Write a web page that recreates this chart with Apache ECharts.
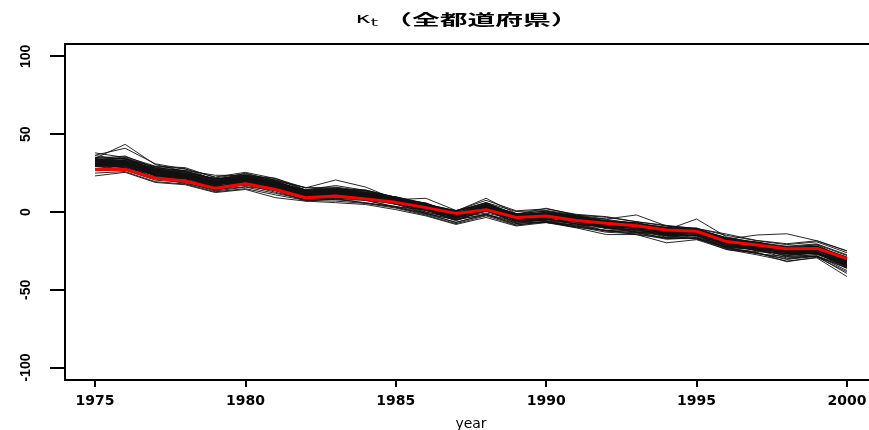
<!DOCTYPE html>
<html>
<head>
<meta charset="utf-8">
<script src="https://cdn.jsdelivr.net/npm/echarts@6/dist/echarts.min.js"></script>
<style>
  html, body { margin: 0; padding: 0; background: #fff; }
  #chart { width: 869px; height: 430px; }
</style>
</head>
<body>
<div id="chart"></div>
<script>
// years on the x axis
const years = [1975, 1976, 1977, 1978, 1979, 1980, 1981, 1982, 1983, 1984, 1985, 1986, 1987,
               1988, 1989, 1990, 1991, 1992, 1993, 1994, 1995, 1996, 1997, 1998, 1999, 2000];
const xTicks = [1975, 1980, 1985, 1990, 1995, 2000];
const yTicks = [-100, -50, 0, 50, 100];

// kappa_t, whole country (red)
const national = [27.5, 27.4, 21.7, 19.9, 15.2, 18.2, 14.5, 9.2, 10.3, 8.4, 6.2, 2.8, -0.9,
                  1.5, -3.5, -2.6, -5.5, -7.2, -8.8, -11.6, -12.4, -19.0, -21.2, -23.6, -23.4, -30.0];

// kappa_t, each prefecture (black)
const p01 = [32.0, 31.1, 26.0, 22.3, 18.4, 20.3, 17.9, 11.0, 12.6, 9.7, 7.6, 3.4, -2.9, 2.7, -4.3, -2.4, -5.9, -7.7, -10.6, -12.8, -12.8, -20.2, -22.3, -26.1, -24.1, -33.6];
const p02 = [32.1, 33.0, 26.0, 24.8, 18.7, 22.0, 17.2, 12.6, 13.4, 12.1, 7.6, 3.5, -0.6, 3.1, -2.5, -2.3, -3.9, -7.9, -8.5, -12.6, -12.6, -18.2, -22.3, -24.2, -24.2, -31.1];
const p03 = [31.7, 29.4, 24.6, 23.4, 15.9, 20.5, 15.5, 11.3, 9.9, 9.6, 7.2, 1.0, -2.8, 0.3, -3.7, -4.7, -7.5, -7.8, -11.1, -13.2, -15.5, -20.5, -22.5, -27.5, -26.3, -32.7];
const p04 = [32.4, 34.7, 26.3, 24.7, 21.6, 21.5, 19.7, 12.2, 15.5, 11.9, 7.9, 5.9, -1.2, 6.0, -2.9, -0.1, -3.1, -7.5, -6.7, -11.8, -10.2, -19.0, -21.0, -22.3, -24.1, -31.6];
const p05 = [30.0, 29.1, 24.0, 20.3, 16.4, 18.3, 15.9, 9.0, 10.6, 7.7, 5.6, 1.4, -4.9, 0.7, -6.3, -4.4, -7.9, -9.7, -12.6, -14.8, -14.8, -22.2, -24.3, -28.1, -26.1, -35.6];
const p06 = [31.6, 32.5, 25.5, 24.3, 18.2, 21.5, 16.7, 12.1, 12.9, 11.6, 7.1, 3.0, -1.1, 2.6, -3.0, -2.8, -4.4, -8.4, -9.0, -13.1, -13.1, -18.7, -22.8, -24.7, -24.7, -31.6];
const p07 = [29.9, 32.2, 23.8, 22.2, 19.1, 19.0, 17.2, 9.7, 13.0, 9.4, 5.4, 3.4, -3.7, 3.5, -5.4, -2.6, -5.6, -10.0, -9.2, -14.3, -12.7, -21.5, -23.5, -24.8, -26.6, -34.1];
const p08 = [34.2, 31.9, 27.1, 25.9, 18.4, 23.0, 18.0, 13.8, 12.4, 12.1, 9.7, 3.5, -0.3, 2.8, -1.2, -2.2, -5.0, -5.3, -8.6, -10.7, -13.0, -18.0, -20.0, -25.0, -23.8, -30.2];
const p09 = [29.6, 30.5, 23.5, 22.3, 16.2, 19.5, 14.7, 10.1, 10.9, 9.6, 5.1, 1.0, -3.1, 0.6, -5.0, -4.8, -6.4, -10.4, -11.0, -15.1, -15.1, -20.7, -24.8, -26.7, -26.7, -33.6];
const p10 = [35.0, 34.1, 29.0, 25.3, 21.4, 23.3, 20.9, 14.0, 15.6, 12.7, 9.6, 5.2, 0.1, 5.7, -1.3, 0.6, -2.9, -4.7, -7.6, -9.8, -10.8, -17.2, -19.3, -23.1, -21.1, -30.6];
const p11 = [29.7, 27.4, 22.6, 21.4, 13.9, 18.5, 13.5, 9.3, 7.9, 7.6, 5.2, -1.0, -4.8, -1.7, -5.7, -6.7, -9.5, -9.8, -13.1, -15.2, -17.5, -22.5, -24.5, -29.5, -28.3, -34.7];
const p12 = [30.4, 32.7, 24.3, 22.7, 19.6, 19.5, 17.7, 10.2, 13.5, 9.9, 5.9, 3.9, -3.2, 4.0, -4.9, -2.1, -5.1, -9.5, -8.7, -13.8, -12.2, -21.0, -23.0, -24.3, -26.1, -33.6];
const p13 = [33.6, 34.5, 27.5, 26.3, 20.2, 23.5, 18.7, 14.1, 14.9, 13.6, 9.1, 5.0, 0.9, 4.6, -1.0, -0.8, -2.4, -6.4, -7.0, -11.1, -11.1, -16.7, -20.8, -22.7, -22.7, -29.6];
const p14 = [27.9, 30.2, 21.8, 20.2, 17.1, 17.0, 15.2, 7.7, 11.0, 7.4, 3.4, 1.4, -5.7, 1.5, -7.4, -4.6, -7.6, -12.0, -11.2, -16.3, -14.7, -23.5, -25.5, -26.8, -28.6, -36.1];
const p15 = [33.0, 32.1, 27.0, 23.3, 19.4, 21.3, 18.9, 12.0, 13.6, 10.7, 8.6, 4.4, -1.9, 3.7, -3.3, -1.4, -4.9, -6.7, -9.6, -11.8, -11.8, -19.2, -21.3, -25.1, -23.1, -32.6];
const p16 = [29.4, 31.7, 23.3, 21.7, 18.6, 18.5, 16.7, 9.2, 12.5, 8.9, 4.9, 2.9, -4.2, 3.0, -5.9, -3.1, -6.1, -10.5, -9.7, -14.8, -13.2, -22.0, -24.0, -25.3, -27.1, -34.6];
const p17 = [33.2, 30.9, 26.1, 24.9, 17.4, 22.0, 17.0, 12.8, 11.4, 11.1, 8.7, 2.5, -1.3, 1.8, -2.2, -3.2, -6.0, -6.3, -9.6, -11.7, -14.0, -19.0, -21.0, -26.0, -24.8, -31.2];
const p18 = [30.6, 31.5, 24.5, 23.3, 17.2, 20.5, 15.7, 11.1, 11.9, 10.6, 6.1, 2.0, -2.1, 1.6, -4.0, -3.8, -5.4, -9.4, -10.0, -14.1, -14.1, -19.7, -23.8, -25.7, -25.7, -32.6];
const p19 = [34.0, 33.1, 28.0, 24.3, 20.4, 22.3, 19.9, 13.0, 14.6, 11.7, 9.6, 5.4, -0.9, 4.7, -2.3, -0.4, -3.9, -5.7, -8.6, -10.8, -10.8, -18.2, -20.3, -24.1, -22.1, -31.6];
const p20 = [30.7, 28.4, 23.6, 22.4, 14.9, 19.5, 14.5, 10.3, 8.9, 8.6, 6.2, 0.0, -3.8, -0.7, -4.7, -5.7, -8.5, -8.8, -12.1, -14.2, -16.5, -21.5, -23.5, -28.5, -27.3, -33.7];
const p21 = [32.4, 31.6, 24.0, 23.4, 19.0, 19.8, 16.7, 11.8, 11.6, 11.5, 7.0, 1.8, -2.1, 3.4, -4.6, -2.7, -4.5, -8.7, -10.9, -12.4, -13.2, -20.8, -21.8, -25.8, -24.4, -34.3];
const p22 = [31.8, 31.5, 27.2, 23.5, 18.2, 22.8, 18.2, 11.6, 14.2, 10.2, 8.7, 4.6, -2.5, 3.2, -2.3, -3.0, -5.1, -6.9, -7.8, -13.2, -12.0, -17.8, -22.5, -24.0, -24.4, -31.6];
const p23 = [31.4, 30.6, 23.0, 22.4, 18.0, 18.8, 15.7, 10.8, 10.6, 10.5, 6.0, 0.8, -3.1, 2.4, -5.6, -3.7, -5.5, -9.7, -11.9, -13.4, -14.2, -21.8, -22.8, -26.8, -25.4, -35.3];
const p24 = [32.8, 32.5, 28.2, 24.5, 19.2, 23.8, 19.2, 12.6, 15.2, 11.2, 9.7, 5.6, -1.5, 4.2, -1.3, -2.0, -4.1, -5.9, -6.8, -12.2, -11.0, -16.8, -21.5, -23.0, -23.4, -30.6];
const p25 = [30.4, 29.6, 22.0, 21.4, 17.0, 17.8, 14.7, 9.8, 9.6, 9.5, 5.0, -0.2, -4.1, 1.4, -6.6, -4.7, -6.5, -10.7, -12.9, -14.4, -15.2, -22.8, -23.8, -27.8, -26.4, -36.3];
const p26 = [31.3, 31.0, 26.7, 23.0, 17.7, 22.3, 17.7, 11.1, 13.7, 9.7, 8.2, 4.1, -3.0, 2.7, -2.8, -3.5, -5.6, -7.4, -8.3, -13.7, -12.5, -18.3, -23.0, -24.5, -24.9, -32.1];
const p27 = [33.9, 33.1, 25.5, 24.9, 20.5, 21.3, 18.2, 13.3, 13.1, 13.0, 8.5, 3.3, -0.6, 4.9, -3.1, -1.2, -3.0, -7.2, -9.4, -10.9, -11.7, -19.3, -20.3, -24.3, -22.9, -32.8];
const p28 = [29.3, 29.0, 24.7, 21.0, 15.7, 20.3, 15.7, 9.1, 11.7, 7.7, 6.2, 2.1, -5.0, 0.7, -4.8, -5.5, -7.6, -9.4, -10.3, -15.7, -14.5, -20.3, -25.0, -26.5, -26.9, -34.1];
const p29 = [36.2, 33.9, 29.1, 27.9, 20.4, 25.0, 20.0, 15.8, 14.4, 14.1, 9.5, 4.3, 0.5, 6.1, 0.3, 1.0, -1.9, -3.4, -6.3, -9.0, -10.6, -15.0, -18.5, -21.0, -19.2, -26.2];
const p30 = [27.6, 28.5, 21.5, 20.3, 14.2, 17.5, 12.7, 8.1, 8.9, 7.6, 3.1, -1.0, -5.1, -1.4, -7.0, -6.8, -8.4, -12.4, -13.0, -17.1, -17.1, -22.7, -26.8, -28.7, -28.7, -35.6];
const p31 = [34.4, 36.0, 28.3, 26.7, 23.6, 23.5, 21.7, 14.2, 17.0, 13.9, 9.0, 5.0, 0.8, 7.5, 0.8, 2.0, -1.5, -3.0, -6.2, -8.6, -10.6, -14.2, -18.3, -20.4, -18.5, -25.0];
const p32 = [28.0, 27.1, 22.0, 18.3, 14.4, 16.3, 13.9, 7.0, 8.6, 5.7, 3.6, -0.6, -6.9, -1.3, -8.3, -6.4, -9.9, -11.7, -14.6, -16.8, -16.8, -24.2, -26.3, -30.1, -28.1, -37.6];
const p33 = [33.4, 32.6, 25.0, 24.4, 20.0, 20.8, 17.7, 12.8, 12.6, 12.5, 8.0, 2.8, -1.1, 4.4, -3.6, -1.7, -3.5, -7.7, -9.9, -11.4, -12.2, -19.8, -20.8, -24.8, -23.4, -33.3];
const p34 = [30.3, 30.0, 25.7, 22.0, 16.7, 21.3, 16.7, 10.1, 12.7, 8.7, 7.2, 3.1, -4.0, 1.7, -3.8, -4.5, -6.6, -8.4, -9.3, -14.7, -13.5, -19.3, -24.0, -25.5, -25.9, -33.1];
const p35 = [34.9, 34.1, 26.5, 25.9, 21.5, 22.3, 19.2, 14.3, 14.1, 14.0, 9.5, 4.3, 0.4, 5.9, -2.1, -0.2, -2.0, -6.2, -8.4, -9.9, -10.7, -18.3, -19.3, -23.3, -21.9, -31.8];
const p36 = [34.5, 43.5, 30.5, 26.0, 21.0, 24.0, 19.5, 13.5, 14.5, 12.0, 8.5, 3.5, -1.0, 4.0, -2.5, -1.5, -4.0, -6.5, -8.0, -11.0, -12.0, -18.0, -21.5, -24.5, -23.0, -31.0];
const p37 = [36.5, 41.0, 31.0, 27.5, 22.5, 25.5, 21.5, 15.5, 16.0, 13.5, 9.0, 4.5, 0.5, 8.8, -1.0, 0.5, -2.5, -5.5, -7.0, -10.0, -11.0, -16.5, -19.5, -22.0, -20.5, -27.5];
const p38 = [33.0, 35.5, 29.5, 28.5, 22.0, 24.5, 20.5, 15.5, 20.6, 16.0, 8.0, 4.0, -1.5, 5.0, -2.0, -1.0, -3.5, -6.0, -8.0, -11.5, -11.5, -18.5, -20.5, -23.0, -22.0, -29.0];
const p39 = [32.5, 33.5, 27.5, 24.5, 19.5, 22.5, 18.5, 12.5, 14.0, 11.5, 8.0, 8.8, 1.0, 5.5, -1.5, 2.4, -2.0, -4.5, -1.9, -9.0, -11.5, -17.5, -20.5, -23.5, -22.5, -29.5];
const p40 = [31.0, 32.0, 26.5, 23.0, 18.5, 21.0, 17.5, 11.5, 12.5, 10.5, 7.5, 3.0, -2.0, 3.0, -3.5, -2.0, -4.5, -7.0, -9.0, -11.5, -4.5, -16.0, -20.0, -23.0, -22.5, -29.0];
const p41 = [30.0, 31.0, 25.0, 22.0, 17.5, 20.0, 16.0, 10.5, 11.5, 9.5, 6.5, 2.0, -3.0, 1.5, -4.5, -3.0, -5.0, -8.0, -9.5, -12.0, -13.0, -17.5, -14.8, -14.0, -18.5, -25.0];
const p42 = [23.2, 25.5, 19.0, 17.5, 12.5, 14.5, 9.2, 7.0, 6.0, 4.8, 1.5, -2.5, -8.0, -3.5, -9.0, -6.8, -10.2, -14.5, -14.5, -19.8, -17.8, -24.0, -27.5, -31.5, -29.5, -41.5];
const p43 = [25.0, 26.0, 19.5, 18.0, 13.0, 15.0, 11.0, 7.5, 7.0, 5.5, 2.5, -2.0, -7.5, -2.5, -8.5, -6.0, -9.5, -13.0, -14.0, -17.5, -16.5, -23.5, -26.5, -30.5, -28.5, -39.5];
const p44 = [26.5, 27.0, 20.5, 19.0, 13.5, 16.0, 12.0, 8.0, 8.0, 6.0, 3.0, -1.5, -6.5, -2.0, -7.5, -6.0, -9.0, -12.0, -13.5, -16.5, -16.0, -23.0, -26.0, -32.0, -29.0, -38.5];
const p45 = [31.0, 30.5, 25.5, 23.5, 17.5, 21.0, 16.5, 11.5, 12.0, 10.0, 7.0, 2.5, -2.5, 2.0, -4.0, -3.5, -5.5, -8.5, -10.0, -13.5, -13.5, -20.5, -23.0, -26.0, -25.5, -35.0];
const p46 = [32.8, 32.0, 26.0, 24.0, 19.0, 21.5, 18.0, 12.0, 13.0, 11.0, 7.5, 3.0, -2.0, 3.0, -3.5, -2.5, -5.0, -8.0, -9.5, -12.5, -13.0, -19.5, -22.0, -25.5, -24.5, -32.5];
const p47 = [38.0, 35.0, 28.5, 26.5, 21.0, 23.0, 20.0, 13.0, 14.0, 12.5, 9.0, 4.0, -0.5, 4.5, -2.0, -1.0, -3.0, -6.0, -8.5, -10.5, -11.5, -17.0, -20.0, -22.5, -21.0, -28.0];

const prefLines = [p01, p02, p03, p04, p05, p06, p07, p08, p09, p10, p11, p12, p13, p14, p15, p16,
                   p17, p18, p19, p20, p21, p22, p23, p24, p25, p26, p27, p28, p29, p30, p31, p32,
                   p33, p34, p35, p36, p37, p38, p39, p40, p41, p42, p43, p44, p45, p46, p47];

const myChart = echarts.init(document.getElementById('chart'), null, {
    width: 869,
    height: 430
});

const toPairs = vals => years.map((y, i) => [y, vals[i]]);

const series = prefLines.map(vals => ({
    type: 'line',
    data: toPairs(vals),
    showSymbol: false,
    silent: true,
    lineStyle: { color: '#111', width: 0.9 },
    z: 2
}));
series.push({
    type: 'line',
    data: toPairs(national),
    showSymbol: false,
    silent: true,
    lineStyle: { color: '#ff0000', width: 3 },
    z: 5
});

const titleGraphic = {
    id: 'title',
    type: 'text',
    x: 467,
    y: 19,
    scaleX: 1.85,
    style: {
        text: '{k|κ}{t|t} （全都道府県）',
        align: 'center',
        verticalAlign: 'middle',
        fill: '#000',
        font: 'bold 15px "Noto Sans CJK JP"',
        rich: {
            k: { fontSize: 14, fontFamily: 'DejaVu Sans', fill: '#000' },
            t: { fontSize: 10, fontFamily: 'DejaVu Sans', fill: '#000', padding: [8, 0, 0, 0] }
        }
    }
};

const option = {
    animation: false,
    backgroundColor: '#fff',
    grid: {
        left: 65,
        top: 44,
        right: -8,
        bottom: 50,
        outerBoundsMode: 'none',
        containLabel: false,
        show: true,
        borderColor: '#000',
        borderWidth: 2
    },
    graphic: [titleGraphic],
    xAxis: {
        type: 'value',
        min: 1974,
        max: 2001,
        name: 'year',
        nameLocation: 'middle',
        nameGap: 37,
        nameTextStyle: { fontFamily: 'DejaVu Sans', fontSize: 14, color: '#000' },
        axisLine: { show: true, onZero: false, lineStyle: { color: '#000', width: 2 } },
        splitLine: { show: false },
        axisTick: {
            show: true,
            customValues: xTicks,
            length: 7,
            lineStyle: { color: '#000', width: 2 }
        },
        axisLabel: {
            customValues: xTicks,
            formatter: v => String(v),
            margin: 14,
            fontFamily: 'DejaVu Sans',
            fontWeight: 'bold',
            fontSize: 14,
            color: '#000'
        }
    },
    yAxis: {
        type: 'value',
        min: -108,
        max: 108,
        axisLine: { show: true, onZero: false, lineStyle: { color: '#000', width: 2 } },
        splitLine: { show: false },
        axisTick: { show: false },
        axisLabel: {
            customValues: yTicks,
            formatter: v => String(v),
            rotate: 90,
            margin: 32,
            fontFamily: 'Liberation Sans',
            fontWeight: 'bold',
            fontSize: 14,
            color: '#000'
        }
    },
    series: series
};

myChart.setOption(option);

// y ticks: drawn at the pixel rows the y axis gives for each tick value
const yTickMarks = yTicks.map((v, i) => {
    const py = Math.round(myChart.convertToPixel({ yAxisIndex: 0 }, v));
    return {
        id: 'ytick' + i,
        type: 'line',
        shape: { x1: 50, y1: py, x2: 65, y2: py },
        style: { stroke: '#000', lineWidth: 2 },
        silent: true
    };
});
myChart.setOption({ graphic: [titleGraphic].concat(yTickMarks) });
</script>
</body>
</html>
